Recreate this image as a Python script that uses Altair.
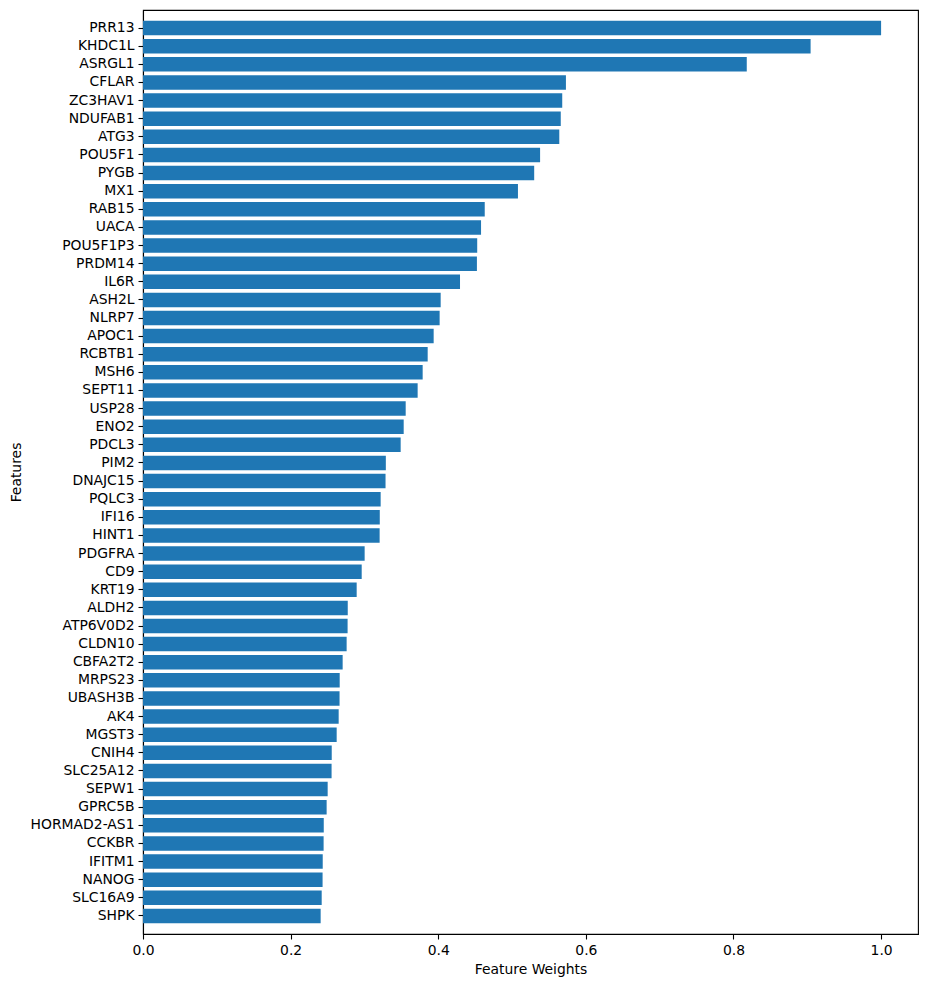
import altair as alt
import pandas as pd

features = ["PRR13", "KHDC1L", "ASRGL1", "CFLAR", "ZC3HAV1", "NDUFAB1", "ATG3", "POU5F1",
            "PYGB", "MX1", "RAB15", "UACA", "POU5F1P3", "PRDM14", "IL6R", "ASH2L", "NLRP7",
            "APOC1", "RCBTB1", "MSH6", "SEPT11", "USP28", "ENO2", "PDCL3", "PIM2", "DNAJC15",
            "PQLC3", "IFI16", "HINT1", "PDGFRA", "CD9", "KRT19", "ALDH2", "ATP6V0D2", "CLDN10",
            "CBFA2T2", "MRPS23", "UBASH3B", "AK4", "MGST3", "CNIH4", "SLC25A12", "SEPW1",
            "GPRC5B", "HORMAD2-AS1", "CCKBR", "IFITM1", "NANOG", "SLC16A9", "SHPK"]
weights = [1.0, 0.9045, 0.818, 0.573, 0.568, 0.566, 0.564, 0.538,
           0.530, 0.508, 0.463, 0.458, 0.4528, 0.4524, 0.4295, 0.4033, 0.4019,
           0.3938, 0.3857, 0.3789, 0.3721, 0.3559, 0.3532, 0.3491, 0.3290, 0.3286,
           0.3220, 0.3208, 0.3206, 0.3003, 0.2963, 0.2895, 0.2774, 0.2772, 0.2759,
           0.2705, 0.2665, 0.2663, 0.2651, 0.2624, 0.2557, 0.2555, 0.2502,
           0.2488, 0.2449, 0.2447, 0.2435, 0.2433, 0.2421, 0.2407]
x_ticks = [0.0, 0.2, 0.4, 0.6, 0.8, 1.0]

df = pd.DataFrame({"feature": features, "weight": weights})

FONT = "DejaVu Sans"
FS = 13.9

chart = alt.Chart(df).mark_bar(color="#1f77b4").encode(
    x=alt.X("weight:Q",
            scale=alt.Scale(domain=[0, 1.05], nice=False, zero=True),
            axis=alt.Axis(title="Feature Weights", values=x_ticks, format=".1f",
                          grid=False, tickSize=5, labelPadding=4, titlePadding=6,
                          labelFlush=False)),
    y=alt.Y("feature:N", sort=features,
            scale=alt.Scale(domain=features, paddingInner=0.2, paddingOuter=0.6),
            axis=alt.Axis(title="Features", grid=False, tickSize=5, labelPadding=4,
                          titlePadding=7)),
).properties(
    width=775, height=924,
    autosize=alt.AutoSizeParams(type="none"),
    padding={"left": 143, "top": 10, "right": 9, "bottom": 53},
).configure_view(
    stroke="black", strokeWidth=1.1
).configure_axis(
    labelFont=FONT, titleFont=FONT, labelFontSize=FS, titleFontSize=FS,
    labelColor="black", titleColor="black", titleFontWeight="normal",
    domainColor="black", tickColor="black", domainWidth=1.1, tickWidth=1.1,
)

chart.save("out.html", embed_options={"renderer": "svg", "actions": False})
